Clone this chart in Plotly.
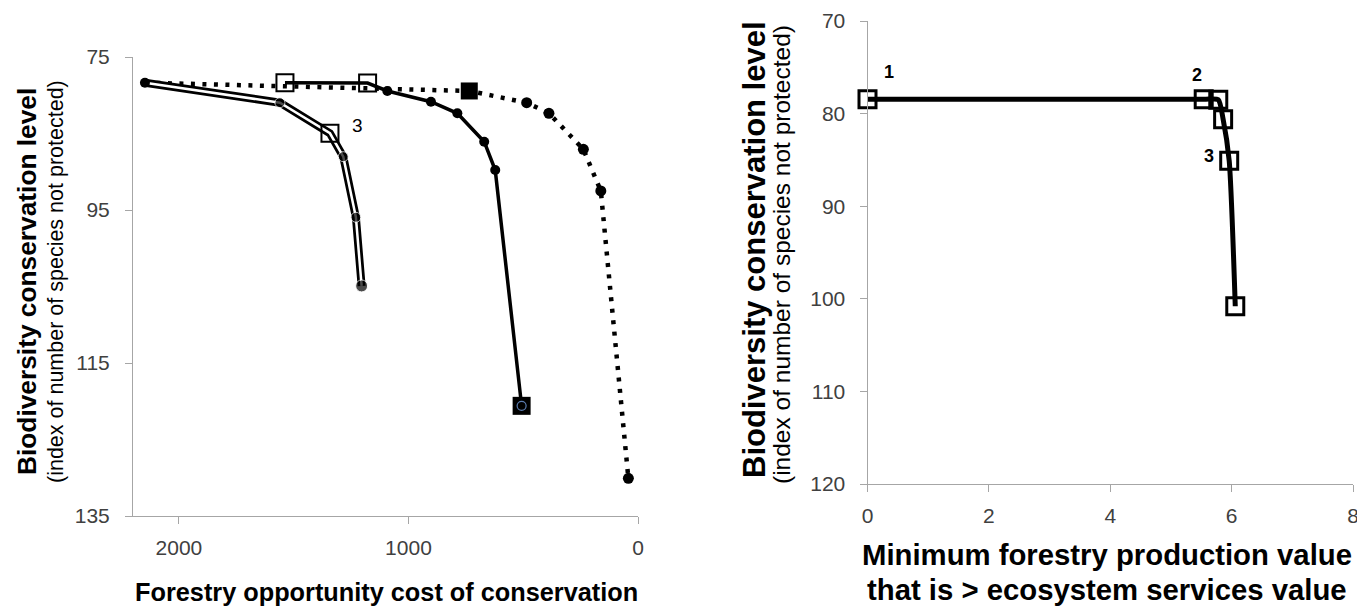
import plotly.graph_objects as go

# page is rendered with an 8px body margin: lay out in page pixels, convert below
OFF = 8
W, H = 1365 - OFF, 607 - OFF
FONT = "Liberation Sans, Arial, sans-serif"
TICK_COL = "#404040"
AXIS_COL = "#a6a6a6"

# ---------------- Left panel data ----------------
# dotted series (all vertices)
dot_x = [2148, 735, 485, 388, 238, 162, 42]
dot_y = [78.36, 79.44, 80.97, 82.36, 87.07, 92.5, 130.07]
# big round markers on the dotted series
dot_mk_x = [485, 388, 238, 162, 42]
dot_mk_y = [80.97, 82.36, 87.07, 92.5, 130.07]
# filled square on dotted series
dot_sq_x = [735]
dot_sq_y = [79.44]

# solid series
sol_x = [1538, 1178, 1092, 902, 787, 670, 622, 507]
sol_y = [78.36, 78.4, 79.44, 80.84, 82.36, 86.07, 89.77, 120.6]
sol_mk_x = [1092, 902, 787, 670, 622]
sol_mk_y = [79.44, 80.84, 82.36, 86.07, 89.77]
sol_end_x = [507]
sol_end_y = [120.6]

# double-line series
dbl_x = [2148, 1560, 1342, 1284, 1229, 1204]
dbl_y = [78.36, 80.97, 84.97, 88.03, 95.95, 104.93]

# labelled open squares
lab_x = [1178, 1538, 1342]
lab_y = [78.4, 78.36, 84.97]
lab_text = ["1", "2", "3"]
lab_tx = [1190, 1547, 1224]
lab_ty = [74.5, 74.35, 83.9]

# ---------------- Right panel data ----------------
r_x = [0, 5.54, 5.78, 5.86, 5.96, 6.06]
r_y = [78.45, 78.45, 78.5, 80.6, 85.1, 100.8]
r_lab_text = ["1", "2", "3"]
r_lab_x = [0.35, 5.43, 5.62]
r_lab_y = [75.5, 75.8, 84.6]


def fx(px):
    return (px - OFF) / W


def fy(py):
    return 1 - (py - OFF) / H


fig = go.Figure()

# ---- left traces ----
fig.add_trace(go.Scatter(x=dot_x, y=dot_y, mode="lines", xaxis="x", yaxis="y",
                         line=dict(color="black", width=4.5, dash="4px,7.5px"),
                         hoverinfo="skip", showlegend=False))
fig.add_trace(go.Scatter(x=dot_mk_x, y=dot_mk_y, mode="markers", xaxis="x", yaxis="y",
                         marker=dict(symbol="circle", size=11, color="black"),
                         showlegend=False, cliponaxis=False))
fig.add_trace(go.Scatter(x=dot_sq_x, y=dot_sq_y, mode="markers", xaxis="x", yaxis="y",
                         marker=dict(symbol="square", size=17, color="black"),
                         showlegend=False, cliponaxis=False))

fig.add_trace(go.Scatter(x=sol_x, y=sol_y, mode="lines", xaxis="x", yaxis="y",
                         line=dict(color="black", width=3.5),
                         showlegend=False))
fig.add_trace(go.Scatter(x=sol_mk_x, y=sol_mk_y, mode="markers", xaxis="x", yaxis="y",
                         marker=dict(symbol="circle", size=10, color="black"),
                         showlegend=False, cliponaxis=False))
fig.add_trace(go.Scatter(x=sol_end_x, y=sol_end_y, mode="markers", xaxis="x", yaxis="y",
                         marker=dict(symbol="square", size=18, color="black"),
                         showlegend=False, cliponaxis=False))
fig.add_trace(go.Scatter(x=sol_end_x, y=sol_end_y, mode="markers", xaxis="x", yaxis="y",
                         marker=dict(symbol="circle-open", size=9, color="#5b7cb0",
                                     line=dict(width=1.2)),
                         showlegend=False, cliponaxis=False))

fig.add_trace(go.Scatter(x=dbl_x, y=dbl_y, mode="lines", xaxis="x", yaxis="y",
                         line=dict(color="black", width=8),
                         showlegend=False))
fig.add_trace(go.Scatter(x=dbl_x, y=dbl_y, mode="lines", xaxis="x", yaxis="y",
                         line=dict(color="white", width=2.5),
                         showlegend=False))
fig.add_trace(go.Scatter(x=dbl_x[1:], y=dbl_y[1:], mode="markers", xaxis="x", yaxis="y",
                         marker=dict(symbol="circle", size=[10, 0, 10, 10, 12], color="black"),
                         showlegend=False, cliponaxis=False))
fig.add_trace(go.Scatter(x=dbl_x[:1], y=dbl_y[:1], mode="markers", xaxis="x", yaxis="y",
                         marker=dict(symbol="circle", size=10, color="black"),
                         showlegend=False, cliponaxis=False))

fig.add_trace(go.Scatter(x=lab_x, y=lab_y, mode="markers", xaxis="x", yaxis="y",
                         marker=dict(symbol="square-open", size=17, color="black",
                                     line=dict(width=2)),
                         showlegend=False, cliponaxis=False))

# ---- right traces ----
fig.add_trace(go.Scatter(x=r_x, y=r_y, mode="lines+markers", xaxis="x2", yaxis="y2",
                         line=dict(color="black", width=5, shape="spline", smoothing=0.6),
                         marker=dict(symbol="square-open", size=17, color="black",
                                     line=dict(width=3)),
                         showlegend=False, cliponaxis=False))

annotations = []
for t, x, y in zip(lab_text, lab_tx, lab_ty):
    annotations.append(dict(x=x, y=y, xref="x", yref="y", text=t, showarrow=False,
                            font=dict(family=FONT, size=19, color="black")))
for t, x, y in zip(r_lab_text, r_lab_x, r_lab_y):
    annotations.append(dict(x=x, y=y, xref="x2", yref="y2", text="<b>%s</b>" % t,
                            showarrow=False, font=dict(family=FONT, size=18, color="black")))


def pxa(x, y, text, size, bold=False, angle=0):
    return dict(x=fx(x), y=fy(y), xref="paper", yref="paper",
                text=("<b>%s</b>" % text) if bold else text, showarrow=False,
                textangle=angle, xanchor="center", yanchor="middle",
                font=dict(family=FONT, size=size, color="black"))


annotations += [
    pxa(27, 282, "Biodiversity conservation level", 26.3, True, -90),
    pxa(56, 282, "(index of number of species not protected)", 21.5, False, -90),
    pxa(386, 592, "Forestry opportunity cost of conservation", 25.3, True),
    pxa(755, 249, "Biodiversity conservation level", 31, True, -90),
    pxa(781, 255, "(index of number of species not protected)", 24.5, False, -90),
    pxa(1107, 554, "Minimum forestry production value", 29.3, True),
    pxa(1107, 589, "that is > ecosystem services value", 29.3, True),
]

axis_common = dict(showline=True, linecolor=AXIS_COL, linewidth=1, ticks="outside",
                   ticklen=7, tickcolor=AXIS_COL, showgrid=False, zeroline=False,
                   automargin=False,
                   tickfont=dict(family=FONT, size=21, color=TICK_COL))

fig.update_layout(
    width=W, height=H, margin=dict(l=0, r=0, t=0, b=0, pad=0),
    paper_bgcolor="white", plot_bgcolor="white",
    xaxis=dict(domain=[fx(133), fx(638)], range=[2200, 0], tickvals=[2000, 1000, 0],
               anchor="y", ticklabelstandoff=6, **axis_common),
    yaxis=dict(domain=[fy(516), fy(57)], range=[135, 75], tickvals=[75, 95, 115, 135],
               anchor="x", ticklabelstandoff=11, **axis_common),
    xaxis2=dict(domain=[fx(867.5), fx(1353)], range=[0, 8], tickvals=[0, 2, 4, 6, 8],
                anchor="y2", ticklabelstandoff=6, **axis_common),
    yaxis2=dict(domain=[fy(484), fy(21)], range=[120, 70],
                tickvals=[70, 80, 90, 100, 110, 120], anchor="x2", ticklabelstandoff=10,
                **axis_common),
    annotations=annotations,
)

fig.write_html("out.html")
